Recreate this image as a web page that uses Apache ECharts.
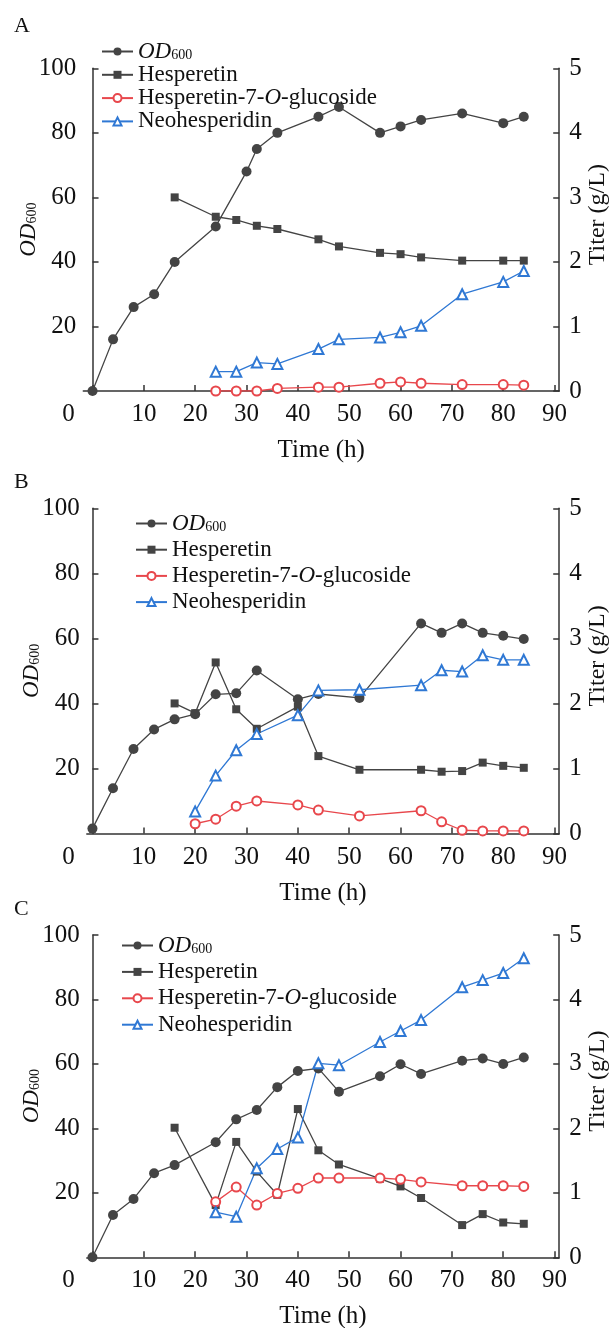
<!DOCTYPE html>
<html lang="en">
<head>
    <meta charset="UTF-8">
    <title>OD600 and titer</title>
    <script src="https://cdn.jsdelivr.net/npm/echarts@6/dist/echarts.min.js"></script>
    <style>
        html, body { margin: 0; padding: 0; background: #fff; }
        #main { width: 613px; height: 1328px; }
    </style>
</head>
<body>
<div id="main"></div>
<script>
    // panel A
    var tA_od = [0, 4, 8, 12, 16, 24, 30, 32, 36, 44, 48, 56, 60, 64, 72, 80, 84];
    var odA = [0, 16, 26, 30, 40, 51, 68, 75, 80, 85, 88, 80, 82, 84, 86, 83, 85];
    var tA_hes = [16, 24, 28, 32, 36, 44, 48, 56, 60, 64, 72, 80, 84];
    var hesA = [3.0, 2.70, 2.65, 2.56, 2.51, 2.35, 2.24, 2.14, 2.12, 2.07, 2.02, 2.02, 2.02];
    var tA_prod = [24, 28, 32, 36, 44, 48, 56, 60, 64, 72, 80, 84];
    var gluA = [0, 0, 0, 0.04, 0.06, 0.06, 0.12, 0.14, 0.12, 0.10, 0.10, 0.09];
    var neoA = [0.30, 0.30, 0.44, 0.42, 0.65, 0.80, 0.83, 0.91, 1.01, 1.50, 1.69, 1.86];

    // panel B
    var tB_od = [0, 4, 8, 12, 16, 20, 24, 28, 32, 40, 44, 52, 64, 68, 72, 76, 80, 84];
    var odB = [1.5, 13.9, 26, 32, 35.1, 36.7, 42.8, 43.1, 50.1, 41.3, 42.9, 41.7, 64.6, 61.7, 64.6, 61.7, 60.8, 59.8];
    var tB_hes = [16, 20, 24, 28, 32, 40, 44, 52, 64, 68, 72, 76, 80, 84];
    var hesB = [2.00, 1.85, 2.63, 1.91, 1.61, 1.95, 1.19, 0.98, 0.98, 0.95, 0.96, 1.09, 1.04, 1.01];
    var tB_prod = [20, 24, 28, 32, 40, 44, 52, 64, 68, 72, 76, 80, 84];
    var gluB = [0.15, 0.22, 0.42, 0.50, 0.44, 0.36, 0.27, 0.35, 0.18, 0.05, 0.04, 0.04, 0.04];
    var neoB = [0.34, 0.89, 1.28, 1.53, 1.82, 2.20, 2.21, 2.28, 2.51, 2.49, 2.74, 2.67, 2.67];

    // panel C
    var tC_od = [0, 4, 8, 12, 16, 24, 28, 32, 36, 40, 44, 48, 56, 60, 64, 72, 76, 80, 84];
    var odC = [0, 13.1, 18.1, 26.1, 28.6, 35.7, 42.8, 45.7, 52.8, 57.8, 58.6, 51.4, 56.2, 59.9, 56.9, 61.0, 61.7, 60.0, 62.0];
    var tC_hes = [16, 24, 28, 32, 36, 40, 44, 48, 56, 60, 64, 72, 76, 80, 84];
    var hesC = [2.01, 0.81, 1.79, 1.33, 0.97, 2.30, 1.66, 1.44, 1.22, 1.10, 0.92, 0.50, 0.67, 0.54, 0.52];
    var tC_prod = [24, 28, 32, 36, 40, 44, 48, 56, 60, 64, 72, 76, 80, 84];
    var gluC = [0.86, 1.09, 0.81, 0.99, 1.07, 1.23, 1.23, 1.23, 1.21, 1.17, 1.11, 1.11, 1.11, 1.10];
    var neoC = [0.70, 0.63, 1.38, 1.68, 1.86, 3.01, 2.98, 3.34, 3.51, 3.68, 4.19, 4.30, 4.41, 4.64];

    var xTicks = [0, 10, 20, 30, 40, 50, 60, 70, 80, 90];
    var names = ['OD600', 'Hesperetin', 'Hesperetin-7-O-glucoside', 'Neohesperidin'];
    var letters = ['A', 'B', 'C'];

    var FONT = 'Liberation Serif';
    var AX = '#333';
    var GRAY = '#444';
    var RED = '#e8474c';
    var BLUE = '#2f78d4';

    // layout of the three panels
    var panels = [
        { left: 83.3, top: 68.3, height: 322.7, xmin: -1.8, legLeft: 101, legTop: 36, gap: 0.3 },
        { left: 86.8, top: 508.3, height: 325.2, xmin: -1.1, legLeft: 135, legTop: 508, gap: 3.2 },
        { left: 86.8, top: 935, height: 322.3, xmin: -1.1, legLeft: 121, legTop: 930, gap: 3.4 }
    ];
    var data = [
        [[tA_od, odA], [tA_hes, hesA], [tA_prod, gluA], [tA_prod, neoA]],
        [[tB_od, odB], [tB_hes, hesB], [tB_prod, gluB], [tB_prod, neoB]],
        [[tC_od, odC], [tC_hes, hesC], [tC_prod, gluC], [tC_prod, neoC]]
    ];

    function zip(t, v) {
        var out = [];
        for (var i = 0; i < t.length; i++) out.push([t[i], v[i]]);
        return out;
    }

    var sub = { fontFamily: FONT, fontSize: 14, verticalAlign: 'bottom', lineHeight: 21, padding: [12, 0, 0, 0] };
    var ital = { fontFamily: FONT, fontSize: 23, fontStyle: 'italic', lineHeight: 21 };

    var grid = [], xAxis = [], yAxis = [], series = [], legend = [], graphic = [];

    panels.forEach(function (p, k) {
        grid.push({ left: p.left, right: 53.8, top: p.top, height: p.height, outerBoundsMode: 'none', containLabel: false });

        xAxis.push({
            type: 'value', gridIndex: k, min: p.xmin, max: 90.9,
            name: 'Time (h)', nameLocation: 'middle', nameGap: 47, nameMoveOverlap: false,
            nameTextStyle: { fontFamily: FONT, fontSize: 25, color: '#111' },
            axisLine: { lineStyle: { color: AX, width: 1.5 } },
            axisTick: { inside: true, length: 6, customValues: xTicks, lineStyle: { color: AX, width: 1.5 } },
            axisLabel: {
                customValues: xTicks, margin: 11, fontFamily: FONT, fontSize: 25, color: '#111',
                formatter: function (v) { return v === 0 ? '{z|0}' : String(v); },
                rich: { z: { fontFamily: FONT, fontSize: 25, color: '#111', padding: [0, 48, 0, 0] } }
            },
            splitLine: { show: false }
        });

        yAxis.push({
            type: 'value', gridIndex: k, min: 0, max: 100, interval: 20, position: 'left',
            name: '{i|OD}{s|600}', nameLocation: 'middle', nameGap: 44, nameRotate: 90, nameMoveOverlap: false,
            nameTextStyle: { color: '#111', rich: { i: ital, s: sub } },
            axisLine: { show: true, lineStyle: { color: AX, width: 1.5 } },
            axisTick: { show: true, inside: true, length: 6, lineStyle: { color: AX, width: 1.5 } },
            axisLabel: { showMinLabel: false, margin: 7, fontFamily: FONT, fontSize: 25, color: '#111' },
            splitLine: { show: false }
        });
        yAxis.push({
            type: 'value', gridIndex: k, min: 0, max: 5, interval: 1, position: 'right',
            name: 'Titer (g/L)', nameLocation: 'middle', nameGap: 27, nameRotate: 90, nameMoveOverlap: false,
            nameTextStyle: { fontFamily: FONT, fontSize: 24, color: '#111', padding: [0, 0, 0, 30] },
            axisLine: { show: true, lineStyle: { color: AX, width: 1.5 } },
            axisTick: { show: true, inside: true, length: 6, lineStyle: { color: AX, width: 1.5 } },
            axisLabel: { margin: 10, fontFamily: FONT, fontSize: 25, color: '#111' },
            splitLine: { show: false }
        });

        var d = data[k];
        var base = { type: 'line', xAxisIndex: k, animation: false, z: 3 };
        series.push(Object.assign({}, base, {
            name: names[0], yAxisIndex: 2 * k, data: zip(d[0][0], d[0][1]),
            symbol: 'circle', symbolSize: 10,
            itemStyle: { color: GRAY }, lineStyle: { color: GRAY, width: 1.3 }
        }));
        series.push(Object.assign({}, base, {
            name: names[1], yAxisIndex: 2 * k + 1, data: zip(d[1][0], d[1][1]),
            symbol: 'rect', symbolSize: 8,
            itemStyle: { color: GRAY }, lineStyle: { color: GRAY, width: 1.3 }
        }));
        series.push(Object.assign({}, base, {
            name: names[2], yAxisIndex: 2 * k + 1, data: zip(d[2][0], d[2][1]),
            symbol: 'emptyCircle', symbolSize: 9,
            itemStyle: { color: RED, borderWidth: 1.5 }, lineStyle: { color: RED, width: 1.3 }
        }));
        series.push(Object.assign({}, base, {
            name: names[3], yAxisIndex: 2 * k + 1, data: zip(d[3][0], d[3][1]),
            symbol: 'emptyTriangle', symbolSize: 10,
            itemStyle: { color: BLUE, borderWidth: 1.5 }, lineStyle: { color: BLUE, width: 1.3 }
        }));

        legend.push({
            data: names, orient: 'vertical', left: p.legLeft, top: p.legTop,
            itemWidth: 31, itemHeight: 10, itemGap: p.gap, padding: 0, selectedMode: false,
            textStyle: {
                fontFamily: FONT, fontSize: 23, color: '#111', lineHeight: 21,
                rich: { i: ital, s: sub, o: { fontFamily: FONT, fontSize: 23, fontStyle: 'italic', lineHeight: 21 } }
            },
            formatter: function (n) {
                if (n === 'OD600') return '{i|OD}{s|600}';
                if (n === 'Hesperetin-7-O-glucoside') return 'Hesperetin-7-{o|O}-glucoside';
                return n;
            }
        });

        graphic.push({
            type: 'text', left: 14, top: p.top - (k === 0 ? 53 : 37),
            style: { text: letters[k], font: '22px "Liberation Serif"', fill: '#111' }
        });
    });

    var chart = echarts.init(document.getElementById('main'));
    chart.setOption({
        animation: false,
        grid: grid, xAxis: xAxis, yAxis: yAxis, series: series,
        legend: legend, graphic: graphic
    });
</script>
</body>
</html>
